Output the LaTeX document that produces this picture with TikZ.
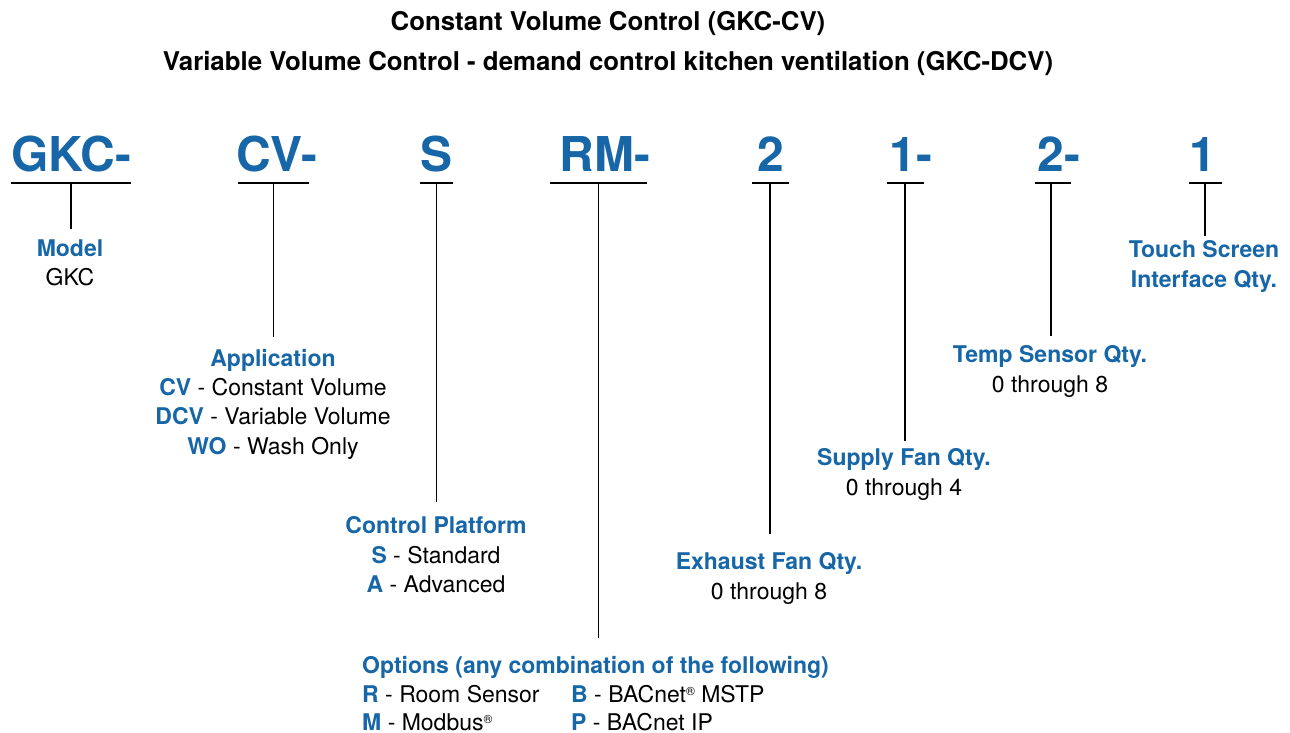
\documentclass[tikz,border=0pt]{standalone}
\usepackage{xcolor}
\usepackage{fontspec}
\setmainfont{TeX Gyre Heros}
\usepackage{tikz}

\definecolor{kblue}{RGB}{22,102,168}
\newcommand{\hd}[1]{{\bfseries\color{kblue}#1}}
\newcommand{\reg}{\raisebox{0.3em}{\fontsize{12}{12}\selectfont ®}}

\begin{document}
\begin{tikzpicture}[x=1pt,y=-1pt]
	\tikzstyle{every node}+=[inner sep=0pt]
	\tikzstyle{code}=[font=\fontsize{48}{48}\selectfont\bfseries, text=kblue, anchor=base]
	\tikzstyle{ttl}=[font=\fontsize{25.8}{25.8}\selectfont\bfseries, anchor=base]
	\tikzstyle{lbl}=[font=\fontsize{23}{29.3}\selectfont, align=center, anchor=north]
	\tikzstyle{opt}=[font=\fontsize{23}{29.3}\selectfont, anchor=base west]
	\tikzstyle{bar}=[black, line width=1.6pt]
	\useasboundingbox (0,0) rectangle (1290,732);
	% titles
	\node [ttl] (title1) at (608,30) {Constant Volume Control (GKC-CV)};
	\node [ttl] (title2) at (608,70) {Variable Volume Control - demand control kitchen ventilation (GKC-DCV)};
	% model code
	\node [code] (gkc) at (71,171) {GKC-};
	\node [code] (cv) at (277,171) {CV-};
	\node [code] (s) at (437,171) {S};
	\node [code] (rm) at (605,171) {RM-};
	\node [code] (ex) at (771,171) {2};
	\node [code] (sup) at (911,171) {1-};
	\node [code] (tmp) at (1059,171) {2-};
	\node [code] (tch) at (1203,171) {1};
	\foreach \n/\l/\r in {gkc/11/131, cv/238/309, s/420/453, rm/550/647, ex/752/789, sup/887/924, tmp/1035/1071, tch/1189/1222} {
		\coordinate (\n-l) at (\l,183);
		\coordinate (\n-r) at (\r,183);
		\draw [bar] (\n-l) -- (\n-r);
	}
	\coordinate (gkc-m) at (71,183);
	\coordinate (cv-m) at (273.5,183);
	\coordinate (s-m) at (436.5,183);
	\coordinate (rm-m) at (598.5,183);
	\coordinate (ex-m) at (770,183);
	\coordinate (sup-m) at (905,183);
	\coordinate (tmp-m) at (1051,183);
	\coordinate (tch-m) at (1205,183);
	% labels
	\node [lbl] (model) at (70,239.5) {\hd{Model}\\GKC};
	\node [lbl] (appl) at (273,349) {\hd{Application}\\\hd{CV} - Constant Volume\\\hd{DCV} - Variable Volume\\\hd{WO} - Wash Only};
	\node [lbl] (platf) at (436,516.5) {\hd{Control Platform}\\\hd{S} - Standard\\\hd{A} - Advanced};
	\node [lbl] (exfan) at (769,552.5) {\hd{Exhaust Fan Qty.}\\0 through 8};
	\node [lbl] (supfan) at (904,448.5) {\hd{Supply Fan Qty.}\\0 through 4};
	\node [lbl] (temp) at (1050,345.5) {\hd{Temp Sensor Qty.}\\0 through 8};
	\node [lbl] (touch) at (1204,240.5) {\hd{Touch Screen}\\\hd{Interface Qty.}};
	\node [lbl, anchor=north west] (opts) at (362,656.5) {\hd{Options (any combination of the following)}};
	\node [opt] (optr) at (362,702.5) {\hd{R} - Room Sensor};
	\node [opt] (optb) at (571,702.5) {\hd{B} - BACnet\reg{} MSTP};
	\node [opt] (optm) at (362,730) {\hd{M} - Modbus\reg};
	\node [opt] (optp) at (571,730) {\hd{P} - BACnet IP};
	% stems
	\draw [bar, shorten >=10.5pt] (gkc-m) -- (gkc-m |- model.north);
	\draw [bar, shorten >=12pt] (cv-m) -- (cv-m |- appl.north);
	\draw [bar, shorten >=15pt] (s-m) -- (s-m |- platf.north);
	\draw [bar, shorten >=19pt] (rm-m) -- (rm-m |- opts.north);
	\draw [bar, shorten >=19pt] (ex-m) -- (ex-m |- exfan.north);
	\draw [bar, shorten >=8pt] (sup-m) -- (sup-m |- supfan.north);
	\draw [bar, shorten >=10pt] (tmp-m) -- (tmp-m |- temp.north);
	\draw [bar, shorten >=5pt] (tch-m) -- (tch-m |- touch.north);
	\end{tikzpicture}
\end{document}
